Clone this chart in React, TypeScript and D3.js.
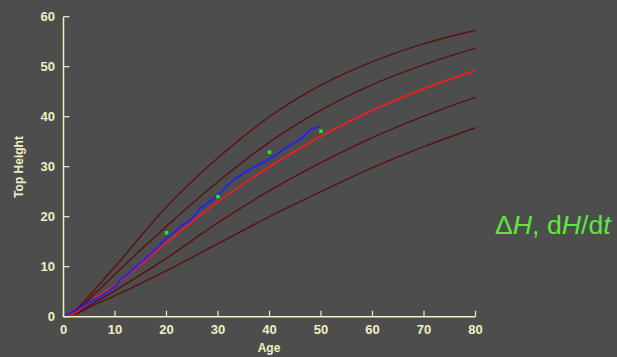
import React from "react";
import * as d3 from "d3";

const ages = [0, 2, 5, 10, 20, 30, 40, 50, 60, 70, 80];
const curveTop = [0, 1.0, 4.2, 10.0, 22.0, 31.8, 40.0, 46.3, 51.0, 54.6, 57.3];
const curveSecond = [0, 0.8, 3.5, 8.5, 18.1, 27.0, 34.9, 41.3, 46.4, 50.4, 53.7];
const curveMid = [0, 0.6, 2.9, 6.3, 14.8, 23.0, 30.0, 36.1, 41.3, 45.6, 49.3];
const curveFourth = [0, 0.5, 2.2, 5.2, 11.7, 18.8, 25.2, 30.8, 35.8, 40.1, 43.9];
const curveFifth = [0, 0.4, 1.9, 4.2, 9.2, 14.6, 20.0, 25.0, 29.8, 34.0, 37.8];

const obsAge = [0, 0.6, 3.2, 5.1, 7.1, 9.0, 10.3, 11.3, 12.3, 14.9, 17.4, 20.0, 22.0, 23.0, 24.9, 26.6, 29.7, 33.0, 36.2, 37.8, 41.4, 43.0, 45.9, 47.9, 49.9];
const obsH = [0, 0.3, 1.7, 3.0, 4.0, 5.3, 6.3, 7.7, 8.3, 10.7, 13.0, 15.7, 17.3, 18.3, 19.5, 21.7, 24.0, 27.4, 29.5, 30.3, 32.4, 33.7, 35.4, 37.4, 38.1];

const plotAge = [20, 30, 40, 50];
const plotH = [16.8, 24.0, 32.9, 37.1];

const xTicks = [0, 10, 20, 30, 40, 50, 60, 70, 80];
const yTicks = [0, 10, 20, 30, 40, 50, 60];

const BG = "#4d4d4d";
const AXIS = "#f0f0c4";
const DARK = "#5c1010";

export default function App() {
  const x = d3.scaleLinear().domain([0, 80]).range([63.5, 475.5]);
  const y = d3.scaleLinear().domain([0, 60]).range([316.7, 16.7]);

  const line = d3
    .line<[number, number]>()
    .x((d) => x(d[0]))
    .y((d) => y(d[1]))
    .curve(d3.curveMonotoneX);
  const rawLine = d3
    .line<[number, number]>()
    .x((d) => x(d[0]))
    .y((d) => y(d[1]))
    .curve(d3.curveLinear);

  const mk = (vals: number[]) => ages.map((a, i) => [a, vals[i]] as [number, number]);
  const darkCurves = [curveTop, curveSecond, curveFourth, curveFifth];

  const font = "'Liberation Sans', Arial, sans-serif";

  return (
    <svg
      width={617}
      height={357}
      style={{ position: "absolute", left: 0, top: 0, display: "block" }}
    >
      <rect x={0} y={0} width={617} height={357} fill={BG} />

      {darkCurves.map((c, i) => (
        <path key={i} d={line(mk(c)) || ""} fill="none" stroke={DARK} strokeWidth={1.4} />
      ))}
      <path d={line(mk(curveMid)) || ""} fill="none" stroke="#ff1a1a" strokeWidth={1.6} />
      <path
        d={rawLine(obsAge.map((a, i) => [a, obsH[i]] as [number, number])) || ""}
        fill="none"
        stroke="#2020ff"
        strokeWidth={1.7}
        strokeLinejoin="round"
      />
      {plotAge.map((a, i) => (
        <rect key={i} x={x(a) - 1.75} y={y(plotH[i]) - 1.75} width={3.5} height={3.5} fill="#22ee22" />
      ))}

      {/* axes */}
      <line x1={x(0)} x2={x(0)} y1={y(60)} y2={y(0) + 0.5} stroke={AXIS} strokeWidth={1.5} />
      <line x1={x(0)} x2={x(80)} y1={y(0)} y2={y(0)} stroke={AXIS} strokeWidth={1.5} />
      {yTicks.map((t) => (
        <g key={"y" + t}>
          <line x1={x(0)} x2={x(0) + 6} y1={y(t)} y2={y(t)} stroke={AXIS} strokeWidth={1.2} />
          <text
            x={55}
            y={y(t) + 4.5}
            textAnchor="end"
            fill={AXIS}
            fontFamily={font}
            fontWeight="bold"
            fontSize={13}
          >
            {t}
          </text>
        </g>
      ))}
      {xTicks.map((t) => (
        <g key={"x" + t}>
          <line x1={x(t)} x2={x(t)} y1={y(0)} y2={y(0) - 6} stroke={AXIS} strokeWidth={1.2} />
          <text
            x={x(t)}
            y={334}
            textAnchor="middle"
            fill={AXIS}
            fontFamily={font}
            fontWeight="bold"
            fontSize={13}
          >
            {t}
          </text>
        </g>
      ))}
      <text
        x={269}
        y={352}
        textAnchor="middle"
        fill={AXIS}
        fontFamily={font}
        fontWeight="bold"
        fontSize={12}
      >
        Age
      </text>
      <text
        transform="translate(22.5,167) rotate(-90)"
        textAnchor="middle"
        fill={AXIS}
        fontFamily={font}
        fontWeight="bold"
        fontSize={12}
      >
        Top Height
      </text>

      <text x={495} y={234} fill="#5fe83a" fontFamily={font} fontSize={26.7}>
        Δ<tspan fontStyle="italic">H</tspan>, d<tspan fontStyle="italic">H</tspan>/d
        <tspan fontStyle="italic">t</tspan>
      </text>
    </svg>
  );
}
